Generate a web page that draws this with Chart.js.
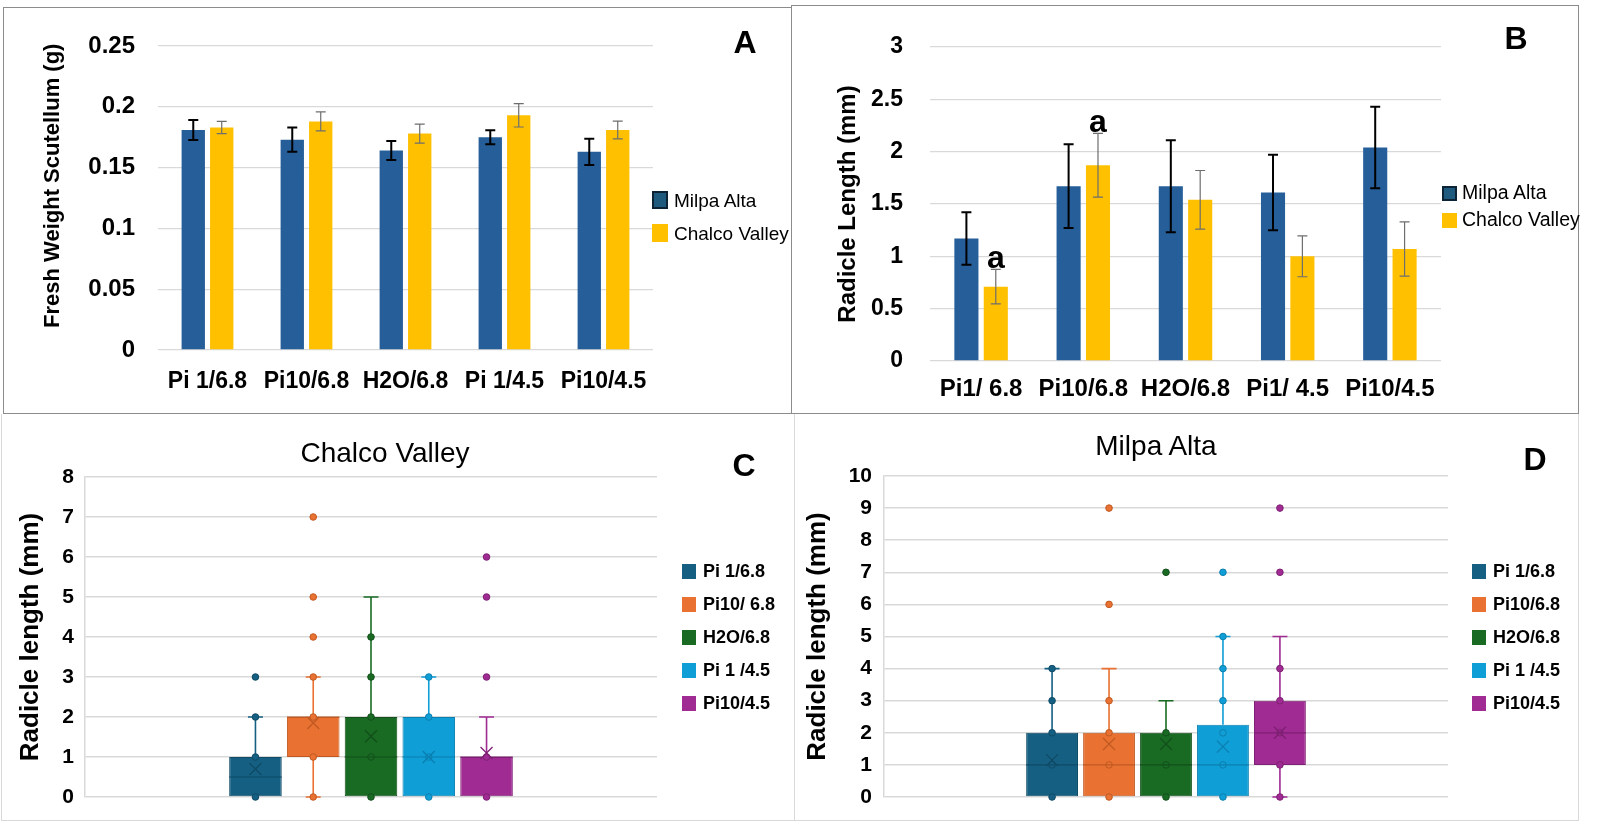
<!DOCTYPE html>
<html>
<head>
<meta charset="utf-8">
<title>Scutellum weight and radicle length</title>
<script src="https://cdn.jsdelivr.net/npm/chart.js@4.4.1/dist/chart.umd.min.js"></script>
<style>
  body { margin: 0; background: #fff; }
  #page { position: relative; width: 1598px; height: 826px; overflow: hidden; background: #fff; }
  .box { position: absolute; }
  .frame { position: absolute; box-sizing: border-box; pointer-events: none; }
  .txt { position: absolute; white-space: nowrap; color: #000; }
  .sq { position: absolute; box-sizing: border-box; }
</style>
</head>
<body>
<div id="page">
  <div class="box" style="left:0;top:0;width:791px;height:413px"><canvas id="chartA"></canvas></div>
  <div class="box" style="left:791px;top:0;width:807px;height:413px"><canvas id="chartB"></canvas></div>
  <div class="box" style="left:0;top:413px;width:794px;height:413px"><canvas id="chartC"></canvas></div>
  <div class="box" style="left:794px;top:413px;width:804px;height:413px"><canvas id="chartD"></canvas></div>

  <div class="frame" style="left:3px;top:7px;width:789px;height:407px;border:1px solid #8c8c8c"></div>
  <div class="frame" style="left:791px;top:5px;width:788px;height:409px;border:1px solid #8c8c8c"></div>
  <div class="frame" style="left:1px;top:414px;width:794px;height:407px;border:1px solid #d9d9d9;border-top:none"></div>
  <div class="frame" style="left:794px;top:414px;width:785px;height:407px;border:1px solid #d9d9d9;border-top:none"></div>
</div>

<script>
const fontFamily = "'Liberation Sans', Arial, sans-serif";
Chart.defaults.font.family = fontFamily;
Chart.defaults.color = '#000';

// --- data ---
const seriesNames = ['Milpa Alta', 'Chalco Valley'];

// A: fresh weight of the scutellum (g)
const catsA = ['Pi 1/6.8', 'Pi10/6.8', 'H2O/6.8', 'Pi 1/4.5', 'Pi10/4.5'];
const milpaA = [0.181, 0.173, 0.164, 0.175, 0.163];
const chalcoA = [0.183, 0.188, 0.178, 0.193, 0.181];
const milpaErrA = [0.0082, 0.0099, 0.0078, 0.0058, 0.0108];
const chalcoErrA = [0.005, 0.0078, 0.0078, 0.0096, 0.0073];
const yTicksA = [0, 0.05, 0.1, 0.15, 0.2, 0.25];

// B: radicle length (mm)
const catsB = ['Pi1/ 6.8', 'Pi10/6.8', 'H2O/6.8', 'Pi1/ 4.5', 'Pi10/4.5'];
const milpaB = [1.17, 1.67, 1.67, 1.61, 2.04];
const chalcoB = [0.71, 1.87, 1.54, 1.00, 1.07];
const milpaErrB = [0.25, 0.40, 0.44, 0.36, 0.39];
const chalcoErrB = [0.165, 0.305, 0.28, 0.195, 0.26];
const sigLabelsB = ['a', 'a', '', '', ''];
const yTicksB = [0, 0.5, 1, 1.5, 2, 2.5, 3];

// C: Chalco Valley box plots
const namesC = ['Pi 1/6.8', 'Pi10/ 6.8', 'H2O/6.8', 'Pi 1 /4.5', 'Pi10/4.5'];
const q1C = [0, 1, 0, 0, 0];
const q3C = [1, 2, 2, 2, 1];
const medC = [0.5, 2, 1, 1, 1];
const meanC = [0.7, 1.85, 1.52, 1.0, 1.1];
const whLoC = [0, 0, 0, 0, 0];
const whHiC = [2, 3, 5, 3, 2];
const ptsC = [[0, 1, 2, 3], [0, 1, 2, 3, 4, 5, 7], [0, 1, 2, 3, 4], [0, 1, 2, 3], [0, 1, 3, 5, 6]];
const yTicksC = [0, 1, 2, 3, 4, 5, 6, 7, 8];

// D: Milpa Alta box plots
const namesD = ['Pi 1/6.8', 'Pi10/6.8', 'H2O/6.8', 'Pi 1 /4.5', 'Pi10/4.5'];
const q1D = [0, 0, 0, 0, 1];
const q3D = [2, 2, 2, 2.25, 3];
const medD = [1, 1, 1, 1, 2];
const meanD = [1.15, 1.65, 1.65, 1.57, 2.0];
const whLoD = [0, 0, 0, 0, 0];
const whHiD = [4, 4, 3, 5, 5];
const ptsD = [[0, 1, 2, 3, 4], [0, 1, 2, 3, 6, 9], [0, 1, 2, 7], [0, 1, 2, 3, 4, 5, 7], [0, 1, 2, 3, 4, 7, 9]];
const yTicksD = [0, 1, 2, 3, 4, 5, 6, 7, 8, 9, 10];

// --- styles ---
const milpaColor = '#255e99';
const chalcoColor = '#ffc000';
const gridColor = '#d9d9d9';
const boxFill = ['#156082', '#e97132', '#196b24', '#0f9ed5', '#a02b93'];
const boxEdge = ['#0f4a66', '#c05a22', '#124f1a', '#0b7fb0', '#7e2073'];

// error bars drawn on top of each bar, one style per series
const makeErrorBars = (errs) => ({
    id: 'errorBars',
    afterDatasetsDraw(chart) {
        const { ctx } = chart;
        const y = chart.scales.y;
        const colors = ['#000', '#6e6e6e'];
        const widths = [2, 1.2];
        errs.forEach((err, i) => {
            const meta = chart.getDatasetMeta(i);
            const vals = chart.data.datasets[i].data;
            ctx.save();
            ctx.strokeStyle = colors[i];
            ctx.lineWidth = widths[i];
            meta.data.forEach((bar, j) => {
                const top = y.getPixelForValue(vals[j] + err[j]);
                const bot = y.getPixelForValue(vals[j] - err[j]);
                ctx.beginPath();
                ctx.moveTo(bar.x, top); ctx.lineTo(bar.x, bot);
                ctx.moveTo(bar.x - 5, top); ctx.lineTo(bar.x + 5, top);
                ctx.moveTo(bar.x - 5, bot); ctx.lineTo(bar.x + 5, bot);
                ctx.stroke();
            });
            ctx.restore();
        });
    }
});

const sigPlugin = {
    id: 'sigLetters',
    afterDatasetsDraw(chart) {
        const { ctx } = chart;
        const y = chart.scales.y;
        const meta = chart.getDatasetMeta(1);
        ctx.save();
        ctx.font = `bold 32px ${fontFamily}`;
        ctx.textAlign = 'center';
        ctx.textBaseline = 'middle';
        ctx.fillStyle = '#000';
        sigLabelsB.forEach((lab, j) => {
            if (!lab) return;
            const bar = meta.data[j];
            ctx.fillText(lab, bar.x, y.getPixelForValue(chalcoB[j] + chalcoErrB[j]) - 10);
        });
        ctx.restore();
    }
};

// whiskers, median, mean and points for the floating-bar boxes
const makeBoxExtras = (q1, q3, med, mean, lo, hi, pts) => ({
    id: 'boxExtras',
    afterDatasetsDraw(chart) {
        const { ctx } = chart;
        const y = chart.scales.y;
        q1.forEach((_, i) => {
            const bar = chart.getDatasetMeta(i).data[0];
            const x = bar.x, half = bar.width / 2;
            ctx.save();
            ctx.lineWidth = 1.6;
            ctx.strokeStyle = boxFill[i];
            ctx.beginPath();
            if (hi[i] > q3[i]) {
                ctx.moveTo(x, y.getPixelForValue(q3[i])); ctx.lineTo(x, y.getPixelForValue(hi[i]));
                ctx.moveTo(x - 7.5, y.getPixelForValue(hi[i])); ctx.lineTo(x + 7.5, y.getPixelForValue(hi[i]));
            }
            if (lo[i] < q1[i]) {
                ctx.moveTo(x, y.getPixelForValue(q1[i])); ctx.lineTo(x, y.getPixelForValue(lo[i]));
                ctx.moveTo(x - 7.5, y.getPixelForValue(lo[i])); ctx.lineTo(x + 7.5, y.getPixelForValue(lo[i]));
            }
            ctx.stroke();

            // median
            ctx.strokeStyle = boxEdge[i];
            ctx.lineWidth = 1.2;
            ctx.beginPath();
            ctx.moveTo(x - half, y.getPixelForValue(med[i])); ctx.lineTo(x + half, y.getPixelForValue(med[i]));
            ctx.stroke();

            // points
            pts[i].forEach(v => {
                const py = y.getPixelForValue(v);
                const inside = v > q1[i] && v < q3[i];
                ctx.beginPath();
                ctx.arc(x, py, 3.3, 0, Math.PI * 2);
                ctx.lineWidth = 1;
                ctx.strokeStyle = boxEdge[i];
                if (!inside) { ctx.fillStyle = boxFill[i]; ctx.fill(); }
                ctx.stroke();
            });

            // mean marker
            const my = y.getPixelForValue(mean[i]);
            ctx.strokeStyle = boxEdge[i];
            ctx.lineWidth = 1.3;
            ctx.beginPath();
            ctx.moveTo(x - 6, my - 6); ctx.lineTo(x + 6, my + 6);
            ctx.moveTo(x + 6, my - 6); ctx.lineTo(x - 6, my + 6);
            ctx.stroke();
            ctx.restore();
        });
    }
});

const fixedTicks = (list) => (s) => { s.ticks = list.map(v => ({ value: v })); };

const barChart = (id, cats, a, b, yMax, ticks, yTitle, geo) => new Chart(document.getElementById(id), {
    type: 'bar',
    data: {
        labels: cats,
        datasets: [
            { label: seriesNames[0], data: a, backgroundColor: milpaColor },
            { label: seriesNames[1], data: b, backgroundColor: chalcoColor }
        ]
    },
    options: {
        responsive: true,
        maintainAspectRatio: false,
        animation: false,
        datasets: { bar: { categoryPercentage: 0.575, barPercentage: 0.82 } },
        layout: { padding: { left: 0, top: geo.top, right: geo.right, bottom: 0 } },
        plugins: { legend: { display: false }, tooltip: { enabled: false } },
        scales: {
            x: {
                grid: { display: false, drawTicks: false },
                border: { display: false },
                ticks: { font: { size: geo.xFont, weight: 'bold' }, padding: geo.xPad, maxRotation: 0, autoSkip: false },
                afterFit: (s) => { s.height = geo.xHeight; s.paddingLeft = 0; s.paddingRight = 0; }
            },
            y: {
                min: 0,
                max: yMax,
                afterBuildTicks: fixedTicks(ticks),
                ticks: { font: { size: geo.yFont, weight: 'bold' }, padding: geo.yPad, callback: (v) => String(v) },
                grid: { color: gridColor, lineWidth: 1.3, drawTicks: false },
                border: { display: false },
                title: { display: true, text: yTitle, font: { size: geo.titleFont, weight: 'bold' }, padding: { top: geo.titlePad, bottom: 0 } },
                afterFit: (s) => { s.width = geo.yWidth; s.paddingTop = 0; s.paddingBottom = 0; }
            }
        }
    },
    plugins: geo.plugins
});

// leading spaces nudge the rotated title up a little, as in the original
barChart('chartA', catsA, milpaA, chalcoA, 0.25, yTicksA, '    Fresh Weight Scutellum (g)', {
    top: 46, right: 138, xFont: 23, xPad: 18, xHeight: 63, yFont: 24, yPad: 23, yWidth: 158,
    titleFont: 22, titlePad: 40, plugins: [makeErrorBars([milpaErrA, chalcoErrA])]
});

barChart('chartB', catsB, milpaB, chalcoB, 3, yTicksB, 'Radicle Length (mm)', {
    top: 47, right: 157, xFont: 24, xPad: 14, xHeight: 52, yFont: 23, yPad: 27, yWidth: 139,
    titleFont: 24, titlePad: 43, plugins: [makeErrorBars([milpaErrB, chalcoErrB]), sigPlugin]
});

const boxChart = (id, names, q1, q3, yMax, ticks, geo, extras) => new Chart(document.getElementById(id), {
    type: 'bar',
    data: {
        labels: [''],
        datasets: names.map((name, i) => ({
            label: name,
            data: [[q1[i], q3[i]]],
            backgroundColor: boxFill[i],
            borderColor: boxEdge[i],
            borderWidth: 1,
            borderSkipped: false
        }))
    },
    options: {
        responsive: true,
        maintainAspectRatio: false,
        animation: false,
        datasets: { bar: { categoryPercentage: 0.505, barPercentage: 0.91 } },
        layout: { padding: { left: 0, top: geo.top, right: geo.right, bottom: geo.bottom } },
        plugins: { legend: { display: false }, tooltip: { enabled: false } },
        scales: {
            x: { display: false },
            y: {
                min: 0,
                max: yMax,
                afterBuildTicks: fixedTicks(ticks),
                ticks: { font: { size: 21, weight: 'bold' }, padding: geo.yPad, callback: (v) => String(v) },
                grid: { color: gridColor, lineWidth: 1.5, drawTicks: false },
                border: { display: true, color: gridColor, width: 1.5 },
                title: { display: true, text: 'Radicle length (mm)', font: { size: 26, weight: 'bold' }, padding: { top: geo.titlePad, bottom: 0 } },
                afterFit: (s) => { s.width = geo.yWidth; s.paddingTop = 0; s.paddingBottom = 0; }
            }
        }
    },
    plugins: [extras]
});

boxChart('chartC', namesC, q1C, q3C, 8, yTicksC,
    { top: 64, right: 137, bottom: 29, yPad: 11, yWidth: 85, titlePad: 15 },
    makeBoxExtras(q1C, q3C, medC, meanC, whLoC, whHiC, ptsC));

boxChart('chartD', namesD, q1D, q3D, 10, yTicksD,
    { top: 63, right: 150, bottom: 29, yPad: 12, yWidth: 90, titlePad: 8 },
    makeBoxExtras(q1D, q3D, medD, meanD, whLoD, whHiD, ptsD));

// --- text outside the plots: panel letters, titles, legends ---
const page = document.getElementById('page');

const placeText = (str, x, y, font, left) => {
    const el = document.createElement('div');
    el.className = 'txt';
    el.textContent = str;
    el.style.font = font;
    el.style.left = x + 'px';
    el.style.top = y + 'px';
    el.style.transform = left ? 'translateY(-50%)' : 'translate(-50%,-50%)';
    page.appendChild(el);
};

const placeLegend = (names, fills, borders, sqX, sqW, sqH, txtX, rows, font) => {
    names.forEach((name, i) => {
        const sq = document.createElement('div');
        sq.className = 'sq';
        sq.style.left = sqX + 'px';
        sq.style.top = (rows[i] - sqH / 2) + 'px';
        sq.style.width = sqW + 'px';
        sq.style.height = sqH + 'px';
        sq.style.background = fills[i];
        sq.style.border = borders[i];
        page.appendChild(sq);
        placeText(name, txtX, rows[i], font, true);
    });
};

const letterFont = `bold 32px/1 ${fontFamily}`;
placeText('A', 745, 42, letterFont);
placeText('B', 1516, 38, letterFont);
placeText('C', 744, 465, letterFont);
placeText('D', 1535, 459, letterFont);

placeText('Chalco Valley', 385, 453, `28px/1 ${fontFamily}`);
placeText('Milpa Alta', 1156, 446, `28px/1 ${fontFamily}`);

const pairFills = ['#1f5b7e', chalcoColor];
const pairBorders = ['2px solid #0c2436', 'none'];
placeLegend(seriesNames, pairFills, pairBorders, 652, 16, 18, 674, [200, 233], `19px/1 ${fontFamily}`);
placeLegend(seriesNames, pairFills, pairBorders, 1442, 15, 15, 1462, [193, 220], `19.5px/1 ${fontFamily}`);

const noBorder = boxFill.map(() => 'none');
placeLegend(namesC, boxFill, noBorder, 682, 14, 15, 703, [571, 604, 637, 670, 703], `bold 18px/1 ${fontFamily}`);
placeLegend(namesD, boxFill, noBorder, 1472, 14, 15, 1493, [571, 604, 637, 670, 703], `bold 18px/1 ${fontFamily}`);
</script>
</body>
</html>
